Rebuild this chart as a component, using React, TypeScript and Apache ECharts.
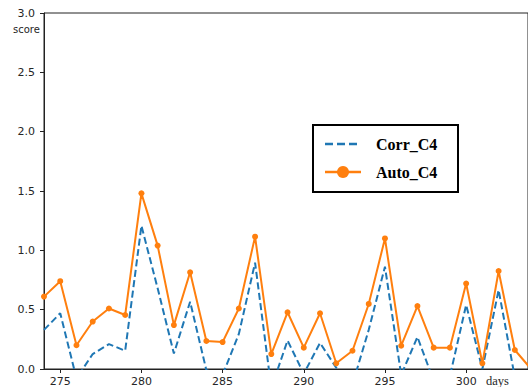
import React, { useEffect, useRef } from "react";
import * as echarts from "echarts";

const days = [274, 275, 276, 277, 278, 279, 280, 281, 282, 283, 284, 285, 286, 287, 288, 289, 290, 291, 292, 293, 294, 295, 296, 297, 298, 299, 300, 301, 302, 303, 304];
const corrC4 = [0.33, 0.47, -0.08, 0.126, 0.21, 0.154, 1.207, 0.68, 0.13, 0.567, -0.01, -0.05, 0.295, 0.896, -0.16, 0.24, -0.04, 0.22, 0.01, -0.13, 0.33, 0.862, -0.05, 0.27, -0.1, -0.06, 0.54, 0.0, 0.666, -0.07, -0.1];
const autoC4 = [0.61, 0.74, 0.2, 0.4, 0.51, 0.455, 1.48, 1.04, 0.37, 0.815, 0.236, 0.227, 0.51, 1.115, 0.126, 0.478, 0.18, 0.47, 0.048, 0.154, 0.548, 1.1, 0.196, 0.53, 0.18, 0.18, 0.72, 0.048, 0.826, 0.16, 0.0];
const seriesNames = ["Corr_C4", "Auto_C4"];
const yTicks = [0, 0.5, 1.0, 1.5, 2.0, 2.5, 3.0];

const BLUE = "#1f77b4";
const ORANGE = "#ff7f0e";
const AXIS = "#222";

export default function App() {
  const ref = useRef<HTMLDivElement>(null);
  useEffect(() => {
    if (!ref.current) return;
    const chart = echarts.init(ref.current, null, { renderer: "svg" });
    chart.setOption({
      animation: false,
      backgroundColor: "#fff",
      grid: { left: 44, right: -1, top: 13, bottom: 18, show: true, borderColor: AXIS, borderWidth: 1 },
      xAxis: {
        type: "value",
        min: 274,
        max: 303.81,
        splitNumber: 5,
        axisLine: { show: true, lineStyle: { color: AXIS, width: 1 } },
        axisTick: { show: true, length: 4, lineStyle: { color: AXIS } },
        splitLine: { show: false },
        axisLabel: {
          showMinLabel: false,
          showMaxLabel: false,
          margin: 7,
          fontFamily: "DejaVu Sans",
          fontSize: 11,
          color: "#262626",
        },
      },
      yAxis: {
        type: "value",
        min: yTicks[0],
        max: yTicks[yTicks.length - 1],
        interval: 0.5,
        axisLine: { show: true, lineStyle: { color: AXIS, width: 1 } },
        axisTick: { show: true, length: 4, lineStyle: { color: AXIS } },
        splitLine: { show: false },
        axisLabel: {
          margin: 9,
          fontFamily: "DejaVu Sans",
          fontSize: 11,
          color: "#262626",
          formatter: (v: number) => v.toFixed(1),
        },
      },
      series: [
        {
          name: seriesNames[0],
          type: "line",
          data: days.map((d, i) => [d, corrC4[i]]),
          showSymbol: false,
          symbol: "none",
          clip: true,
          lineStyle: { color: BLUE, width: 2, type: [7, 3.5] },
          itemStyle: { color: BLUE },
        },
        {
          name: seriesNames[1],
          type: "line",
          data: days.map((d, i) => [d, autoC4[i]]),
          symbol: "circle",
          symbolSize: 6,
          clip: true,
          lineStyle: { color: ORANGE, width: 2 },
          itemStyle: { color: ORANGE },
          z: 3,
        },
      ],
      graphic: [
        {
          type: "text",
          left: 13,
          top: 24,
          style: { text: "score", font: "10px 'DejaVu Sans'", fill: "#262626" },
        },
        {
          type: "text",
          left: 486,
          top: 374,
          style: { text: "days", font: "12.5px 'Liberation Serif'", fill: "#262626" },
        },
        {
          type: "group",
          left: 312,
          top: 124,
          children: [
            {
              type: "rect",
              shape: { x: 1, y: 1, width: 145, height: 67 },
              style: { fill: "#fff", stroke: "#000", lineWidth: 2 },
            },
            {
              type: "line",
              shape: { x1: 13, y1: 20, x2: 49, y2: 20 },
              style: { stroke: BLUE, lineWidth: 2.5, lineDash: [8, 4] },
            },
            {
              type: "text",
              x: 64,
              y: 20,
              style: { text: seriesNames[0], font: "bold 16px 'Liberation Serif'", fill: "#000", verticalAlign: "middle" },
            },
            {
              type: "line",
              shape: { x1: 13, y1: 48, x2: 49, y2: 48 },
              style: { stroke: ORANGE, lineWidth: 2.5 },
            },
            {
              type: "circle",
              shape: { cx: 31, cy: 48, r: 6 },
              style: { fill: ORANGE },
            },
            {
              type: "text",
              x: 64,
              y: 48,
              style: { text: seriesNames[1], font: "bold 16px 'Liberation Serif'", fill: "#000", verticalAlign: "middle" },
            },
          ],
        },
      ],
    });
    return () => chart.dispose();
  }, []);
  return <div ref={ref} style={{ position: "fixed", left: 0, top: 0, width: 528, height: 387 }} />;
}
